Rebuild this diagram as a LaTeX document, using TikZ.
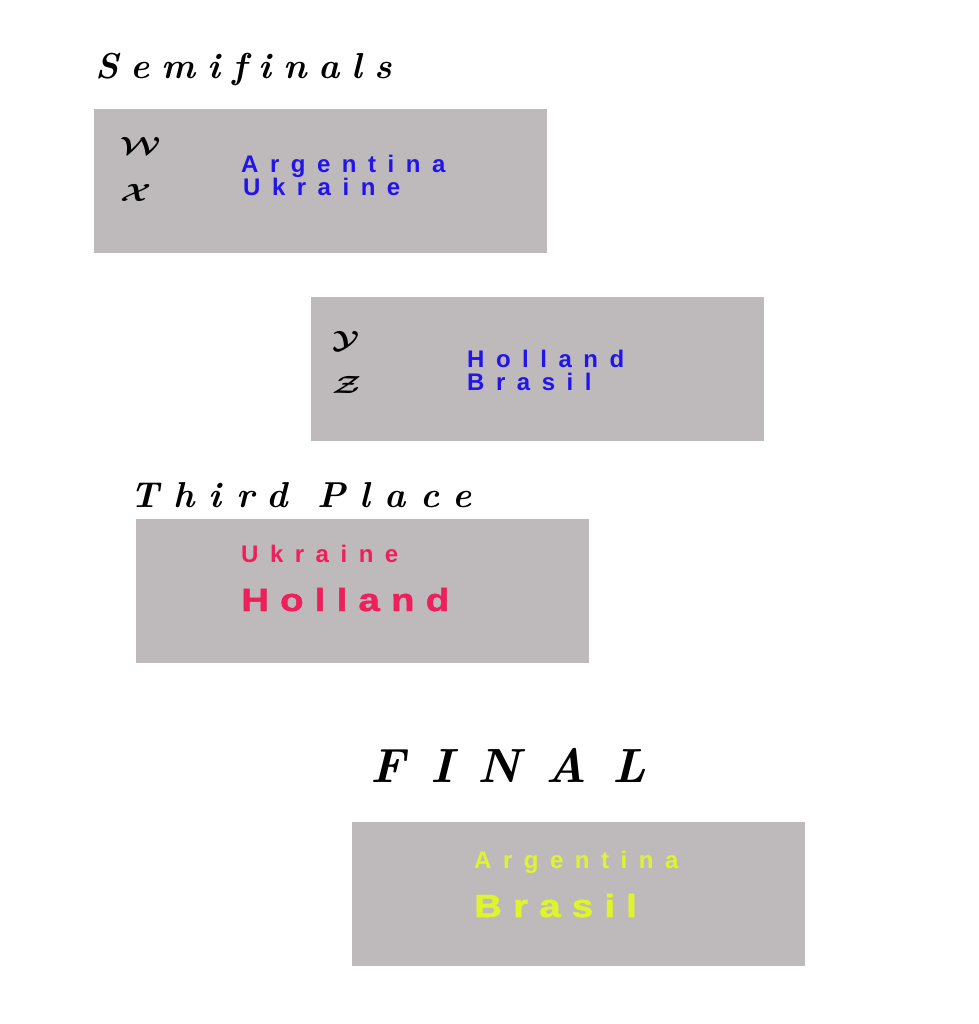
\documentclass[tikz,border=0pt]{standalone}
\usepackage{fontspec}
\usepackage{graphicx}
\setmainfont{Latin Modern Roman}
\newfontfamily\semifont[LetterSpace=33,Ligatures=NoCommon]{Latin Modern Roman}
\newfontfamily\thirdfont[LetterSpace=40,Ligatures=NoCommon]{Latin Modern Roman}
\newfontfamily\finalfont[LetterSpace=52,Ligatures=NoCommon]{Latin Modern Roman}
\newfontfamily\teamfont[LetterSpace=48]{Liberation Sans}
\newfontfamily\bigteamfont[LetterSpace=35,FakeStretch=1.2,FakeBold=1.5]{Liberation Sans}
\definecolor{boxgray}{RGB}{190,186,187}
\definecolor{teamblue}{RGB}{35,20,235}
\definecolor{teampink}{RGB}{238,32,92}
\definecolor{teamyellow}{RGB}{222,245,45}
\newcommand{\slotletter}[1]{\scalebox{1.3}[1]{$\mathcal{#1}$}}
\tikzset{
  matchbox/.style={fill=boxgray, draw=none},
  lbl/.style={inner sep=0pt, anchor=base west},
  semihead/.style={lbl, font=\semifont\bfseries\itshape\fontsize{36}{40}\selectfont},
  thirdhead/.style={lbl, font=\thirdfont\bfseries\itshape\fontsize{36}{40}\selectfont},
  bigheading/.style={lbl, font=\finalfont\bfseries\itshape\fontsize{48}{52}\selectfont},
  slot/.style={lbl, font=\boldmath\fontsize{37}{42}\selectfont},
  teamsmall/.style={lbl, font=\teamfont\bfseries\fontsize{24}{26}\selectfont},
  teambig/.style={lbl, font=\bigteamfont\bfseries\fontsize{32}{34}\selectfont}
}
\begin{document}
\begin{tikzpicture}[x=1pt,y=-1pt]
\useasboundingbox[fill=white] (0,0) rectangle (978,1024);
% boxes
\fill[matchbox] (94,109) rectangle (547,253);
\fill[matchbox] (311,297) rectangle (764,441);
\fill[matchbox] (136,519) rectangle (589,663);
\fill[matchbox] (352,822) rectangle (805,966);
% headings
\node[semihead] (semi) at (95,79) {Semifinals};
\node[thirdhead] (third) at (130,507) {Third Place};
\node[bigheading] (final) at (370,782) {FINAL};
% slot letters
\node[slot] (w) at (120,155) {\slotletter{W}};
\node[slot] (x) at (120,202) {\slotletter{X}};
\node[slot] (y) at (332,348) {\slotletter{Y}};
\node[slot] (z) at (332,393) {\slotletter{Z}};
% semifinal teams
\node[teamsmall, text=teamblue] (arg1) at (241,173) {Argentina};
\node[teamsmall, text=teamblue] (ukr1) at (243,196) {Ukraine};
\node[teamsmall, text=teamblue] (hol1) at (467,367) {Holland};
\node[teamsmall, text=teamblue] (bra1) at (467,390) {Brasil};
% third place
\node[teamsmall, text=teampink] (ukr2) at (241,562) {Ukraine};
\node[teambig, text=teampink] (hol2) at (241,611) {Holland};
% final
\node[teamsmall, text=teamyellow] (arg2) at (474,868) {Argentina};
\node[teambig, text=teamyellow] (bra2) at (474,917) {Brasil};
\end{tikzpicture}
\end{document}
